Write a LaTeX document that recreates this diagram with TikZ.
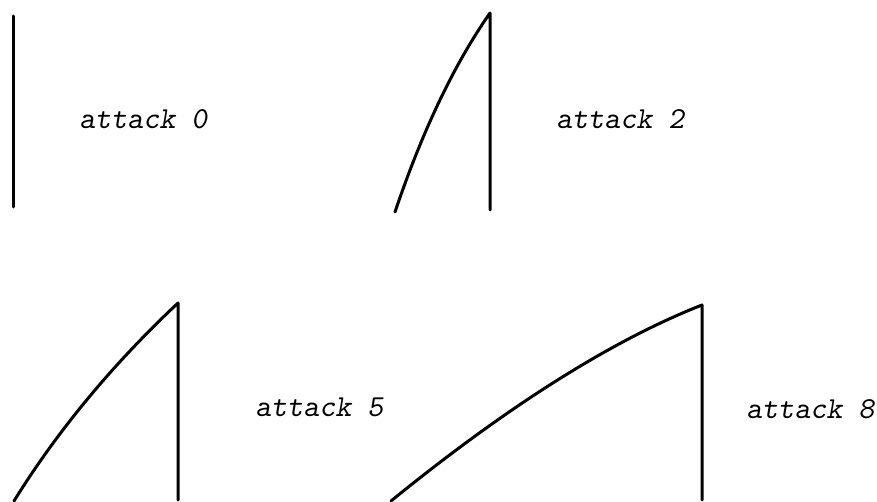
\documentclass[tikz,border=0pt]{standalone}
\usepackage{fontspec}
\begin{document}
\begin{tikzpicture}[x=1pt,y=-1pt]

\tikzstyle{envelope} = [line width=3pt, line cap=round, line join=round, black]
\tikzstyle{attacktext} = [anchor=base west, inner sep=0pt, font=\ttfamily\slshape\fontsize{30.5}{30.5}\selectfont]

\useasboundingbox (0,0) rectangle (877,502);

% attack 0
\coordinate (top0) at (13,16);
\coordinate (bot0) at (13,207);
\node (lab0) [attacktext] at (79,129) {attack 0};

% attack 2
\coordinate (start2) at (395,212);
\coordinate (top2) at (490,13);
\coordinate (bot2) at (490,210);
\node (lab2) [attacktext] at (556,129) {attack 2};

% attack 5
\coordinate (start5) at (14,501);
\coordinate (top5) at (178,303);
\coordinate (bot5) at (178,500);
\node (lab5) [attacktext] at (255,416) {attack 5};

% attack 8
\coordinate (start8) at (391,501);
\coordinate (top8) at (702,305);
\coordinate (bot8) at (702,500);
\node (lab8) [attacktext] at (746,418) {attack 8};

\draw [envelope] (top0) -- (bot0);
\draw [envelope] (start2) .. controls (423,129) and (455,63) .. (top2) -- (bot2);
\draw [envelope] (start5) .. controls (58,430) and (113,364) .. (top5) -- (bot5);
\draw [envelope] (start8) .. controls (509,405) and (613,340) .. (top8) -- (bot8);

\end{tikzpicture}
\end{document}
